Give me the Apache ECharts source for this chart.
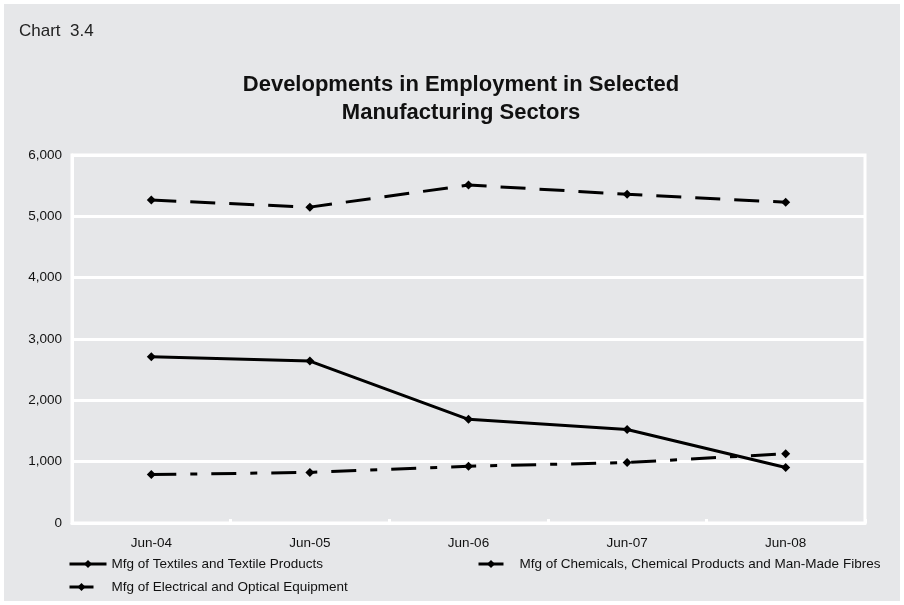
<!DOCTYPE html>
<html>
<head>
<meta charset="utf-8">
<script src="https://cdn.jsdelivr.net/npm/echarts@6/dist/echarts.min.js"></script>
<style>
  html, body { margin: 0; padding: 0; background: #ffffff; }
  #chart { width: 904px; height: 605px; }
</style>
</head>
<body>
<div id="chart"></div>
<script>
// Employment by sector, June of each year
const categories = ['Jun-04', 'Jun-05', 'Jun-06', 'Jun-07', 'Jun-08'];
const textiles = [2710, 2640, 1690, 1525, 905];
const chemicals = [790, 825, 925, 985, 1130];
const electrical = [5265, 5150, 5510, 5360, 5230];
const yTicks = [0, 1000, 2000, 3000, 4000, 5000, 6000];

const seriesNames = [
  'Mfg of Textiles and Textile Products',
  'Mfg of Chemicals, Chemical Products and Man-Made Fibres',
  'Mfg of Electrical and Optical Equipment'
];

const FONT = '"Liberation Sans", Arial, Helvetica, sans-serif';
const BG = '#e6e7e9';

const chart = echarts.init(document.getElementById('chart'), null, { renderer: 'canvas' });

function lineSeries(name, data, dash) {
  return {
    name: name,
    type: 'line',
    data: data,
    symbol: 'diamond',
    symbolSize: 9,
    showSymbol: true,
    animation: false,
    itemStyle: { color: '#000000' },
    lineStyle: { color: '#000000', width: 3, type: dash },
    z: 5
  };
}

function legendItem(name, left, top, width, gap) {
  return {
    data: [name],
    left: left,
    top: top,
    itemWidth: width,
    itemHeight: 10,
    padding: 0,
    selectedMode: false,
    lineStyle: { width: 3 },
    textStyle: { fontFamily: FONT, fontSize: 13.5, color: '#111', padding: [0, 0, 0, gap] }
  };
}

chart.setOption({
  backgroundColor: BG,
  animation: false,
  graphic: [
    {
      id: 'frame',
      type: 'rect',
      shape: { x: 0, y: 0, width: 904, height: 605 },
      style: { fill: 'none', stroke: '#ffffff', lineWidth: 8 },
      silent: true,
      z: 100
    },
    {
      id: 'label',
      type: 'text',
      x: 19,
      y: 23,
      style: { text: 'Chart  3.4', font: '17px ' + FONT, fill: '#222' }
    },
    {
      id: 'heading',
      type: 'text',
      x: 461,
      y: 71,
      style: {
        text: 'Developments in Employment in Selected\nManufacturing Sectors',
        font: 'bold 22px ' + FONT,
        fill: '#111',
        align: 'center',
        verticalAlign: 'top',
        lineHeight: 28
      }
    }
  ],
  legend: [
    legendItem(seriesNames[0], 68, 557, 37, 0),
    legendItem(seriesNames[1], 477, 557, 25, 11),
    legendItem(seriesNames[2], 68, 580, 24, 13)
  ],
  grid: {
    left: 72, right: 39, top: 155, bottom: 82,
    show: true, backgroundColor: 'transparent', borderColor: '#ffffff', borderWidth: 3
  },
  xAxis: {
    type: 'category',
    data: categories,
    boundaryGap: true,
    axisLine: { show: true, lineStyle: { color: '#ffffff', width: 3 } },
    axisTick: { show: true, inside: true, length: 4, lineStyle: { color: '#ffffff', width: 3 } },
    axisLabel: { fontFamily: FONT, fontSize: 13.5, color: '#111', margin: 13 },
    splitLine: { show: false }
  },
  yAxis: {
    type: 'value',
    min: yTicks[0],
    max: yTicks[yTicks.length - 1],
    interval: 1000,
    axisLine: { show: true, lineStyle: { color: '#ffffff', width: 3 } },
    axisTick: { show: false },
    axisLabel: {
      fontFamily: FONT, fontSize: 13.5, color: '#111', margin: 10,
      formatter: function (v) { return v.toLocaleString('en-US'); }
    },
    splitLine: { show: true, lineStyle: { color: '#ffffff', width: 3 } }
  },
  series: [
    lineSeries(seriesNames[0], textiles, 'solid'),
    lineSeries(seriesNames[1], chemicals, [25, 14, 7, 14]),
    lineSeries(seriesNames[2], electrical, [25, 14])
  ]
});
</script>
</body>
</html>
